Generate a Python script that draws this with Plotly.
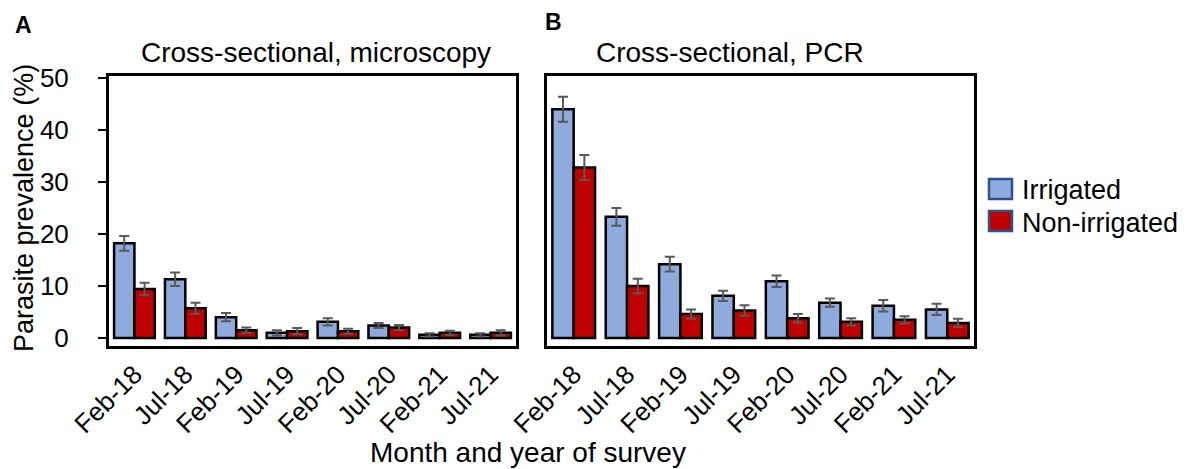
import plotly.graph_objects as go

months = ["Feb-18", "Jul-18", "Feb-19", "Jul-19", "Feb-20", "Jul-20", "Feb-21", "Jul-21"]
micro_irr = [18.2, 11.3, 4.0, 1.0, 3.1, 2.4, 0.6, 0.6]
micro_irr_err = [1.4, 1.3, 0.8, 0.5, 0.7, 0.5, 0.3, 0.3]
micro_non = [9.4, 5.7, 1.5, 1.3, 1.3, 2.0, 1.0, 1.0]
micro_non_err = [1.2, 1.1, 0.5, 0.6, 0.5, 0.5, 0.4, 0.5]
pcr_irr = [44.0, 23.3, 14.2, 8.1, 10.9, 6.8, 6.2, 5.5]
pcr_irr_err = [2.4, 1.7, 1.4, 1.0, 1.1, 0.8, 1.1, 1.1]
pcr_non = [32.8, 10.0, 4.6, 5.3, 3.8, 3.1, 3.5, 2.9]
pcr_non_err = [2.4, 1.4, 0.9, 1.0, 0.8, 0.7, 0.7, 0.8]
yticks = [0, 10, 20, 30, 40, 50]

W, H = 1193, 469
C_IRR = "#8FAADC"
C_NON = "#C00000"
FONT = "Liberation Sans, Arial, sans-serif"


def px(x):
    return x / W


def py(y):
    return 1 - y / H


fig = go.Figure()


def add_bars(xa, ya, irr, irr_e, non, non_e):
    for vals, errs, col, name in [(irr, irr_e, C_IRR, "Irrigated"), (non, non_e, C_NON, "Non-irrigated")]:
        fig.add_trace(go.Bar(
            x=months, y=vals, name=name, xaxis=xa, yaxis=ya, showlegend=False,
            marker=dict(color=col, line=dict(color="black", width=2.5)),
            error_y=dict(type="data", array=errs, visible=True, color="#595959", thickness=2, width=5),
        ))


add_bars("x", "y", micro_irr, micro_irr_err, micro_non, micro_non_err)
add_bars("x2", "y2", pcr_irr, pcr_irr_err, pcr_non, pcr_non_err)

yr = [-1.54, 50.38]
common_x = dict(showline=True, mirror=True, linewidth=3, linecolor="black", ticks="",
                tickangle=-45, tickfont=dict(size=26, color="black", family=FONT),
                showgrid=False, zeroline=False, automargin=False)
fig.update_layout(
    width=W, height=H,
    margin=dict(l=0, r=0, t=0, b=0),
    paper_bgcolor="white", plot_bgcolor="white",
    barmode="group", bargap=0.2, bargroupgap=0,
    font=dict(family=FONT, color="black"),
    showlegend=False,
    xaxis=dict(domain=[px(109), px(516)], anchor="y", **common_x),
    xaxis2=dict(domain=[px(547), px(974)], anchor="y2", **common_x),
    yaxis=dict(domain=[py(346), py(76)], anchor="x", range=yr, tickvals=yticks,
               showline=True, mirror=True, linewidth=3, linecolor="black",
               ticks="outside", ticklen=8, tickwidth=2, tickcolor="black",
               tickfont=dict(size=26, color="black", family=FONT), ticklabelstandoff=24,
               showgrid=False, zeroline=False, automargin=False),
    yaxis2=dict(domain=[py(346), py(76)], anchor="x2", range=yr, tickvals=yticks,
                showline=True, mirror=True, linewidth=3, linecolor="black",
                ticks="", showticklabels=False,
                showgrid=False, zeroline=False, automargin=False),
)

ann = []


def add_text(text, x, y, size, bold=False, xanchor="center", angle=0):
    ann.append(dict(text=("<b>%s</b>" % text) if bold else text, x=px(x), y=py(y),
                    xref="paper", yref="paper", xanchor=xanchor, yanchor="middle",
                    showarrow=False, textangle=angle,
                    font=dict(size=size, color="black", family=FONT)))


add_text("A", 23, 25, 23, bold=True)
add_text("B", 553, 22, 23, bold=True)
add_text("Cross-sectional, microscopy", 316, 53, 28)
add_text("Cross-sectional, PCR", 730, 53, 28)
add_text("Parasite prevalence (%)", 24, 208, 27, angle=-90)
add_text("Month and year of survey", 528, 452, 28)
add_text("Irrigated", 1020, 190, 27, xanchor="left")
add_text("Non-irrigated", 1020, 223, 27, xanchor="left")

shapes = [
    dict(type="rect", xref="paper", yref="paper", x0=px(989), x1=px(1012), y0=py(179), y1=py(199),
         fillcolor=C_IRR, line=dict(color="#2F528F", width=2.5)),
    dict(type="rect", xref="paper", yref="paper", x0=px(989), x1=px(1012), y0=py(211), y1=py(231),
         fillcolor=C_NON, line=dict(color="#2F528F", width=2.5)),
]
fig.update_layout(annotations=ann, shapes=shapes)

fig.write_html("out.html", config={"displayModeBar": False},
               post_script="document.body.style.margin='0px';document.body.style.overflow='hidden';")
